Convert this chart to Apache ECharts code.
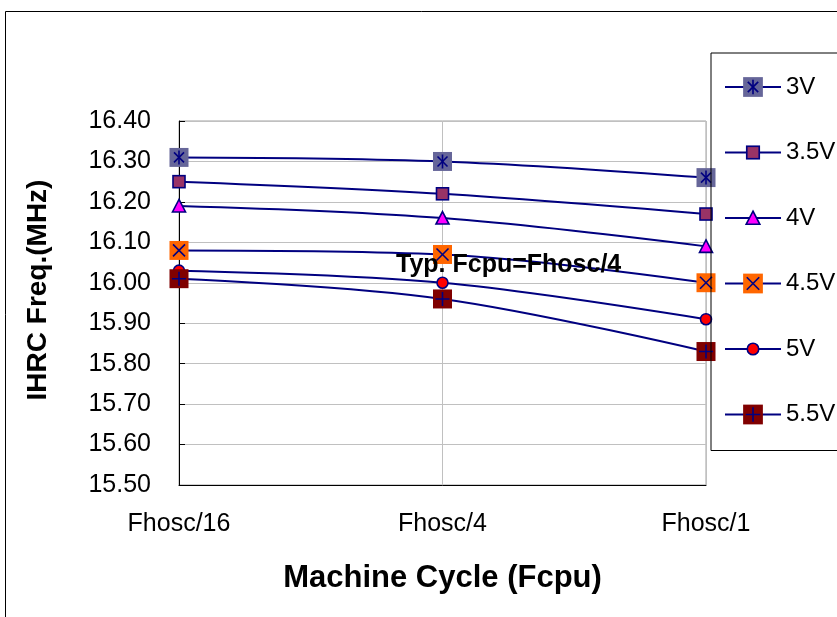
<!DOCTYPE html>
<html>
<head>
<meta charset="utf-8">
<script src="https://cdn.jsdelivr.net/npm/echarts@6/dist/echarts.min.js"></script>
<style>
  html, body { margin: 0; padding: 0; background: #fff; }
  #main { width: 837px; height: 617px; }
</style>
</head>
<body>
<div id="main"></div>
<script>
// 横轴分类
var categories = ['Fhosc/16', 'Fhosc/4', 'Fhosc/1'];
// 各电压下的 IHRC 频率 (MHz)
var v30 = [16.31, 16.30, 16.26];
var v35 = [16.25, 16.22, 16.17];
var v40 = [16.19, 16.16, 16.09];
var v45 = [16.08, 16.07, 16.00];
var v50 = [16.03, 16.00, 15.91];
var v55 = [16.01, 15.96, 15.83];
var seriesNames = ['3V', '3.5V', '4V', '4.5V', '5V', '5.5V'];
var yTicks = [15.5, 16.4, 0.1]; // min, max, interval

var FONT = 'Liberation Sans, Arial, sans-serif';
var NAVY = '#000080';

// Excel 风格的标记, 用 svg 图片画 (方块+内部符号)
function svgSymbol(body) {
    var svg = '<svg xmlns="http://www.w3.org/2000/svg" width="20" height="20" viewBox="0 0 20 20">' + body + '</svg>';
    return 'image://data:image/svg+xml;charset=utf-8,' + encodeURIComponent(svg);
}
var ln = function (x1, y1, x2, y2) {
    return '<line x1="' + x1 + '" y1="' + y1 + '" x2="' + x2 + '" y2="' + y2 + '" stroke="' + NAVY + '" stroke-width="1.6"/>';
};
var symbols = [
    svgSymbol('<rect x="0.5" y="0.5" width="19" height="19" fill="#666699"/>' + ln(5, 5, 15, 15) + ln(15, 5, 5, 15) + ln(10, 3, 10, 17)),
    svgSymbol('<rect x="4" y="4" width="12" height="12" fill="#993366" stroke="' + NAVY + '" stroke-width="1.6"/>'),
    svgSymbol('<polygon points="10,3.5 16.5,16 3.5,16" fill="#FF00FF" stroke="' + NAVY + '" stroke-width="1.6"/>'),
    svgSymbol('<rect x="0.5" y="0.5" width="19" height="19" fill="#FF6600"/>' + ln(4, 4, 16, 16) + ln(16, 4, 4, 16)),
    svgSymbol('<circle cx="10" cy="10" r="5.5" fill="#FF0000" stroke="' + NAVY + '" stroke-width="1.6"/>'),
    svgSymbol('<rect x="0.5" y="0.5" width="19" height="19" fill="#800000"/>' + ln(10, 3, 10, 17) + ln(3, 10, 17, 10))
];

var values = [v30, v35, v40, v45, v50, v55];

var myChart = echarts.init(document.getElementById('main'));

var series = [];
values.forEach(function (data, i) {
    series.push({
        name: seriesNames[i],
        type: 'line',
        smooth: 0.35,
        symbol: symbols[i],
        symbolSize: 20,
        showAllSymbol: true,
        lineStyle: { color: NAVY, width: 2 },
        itemStyle: { color: NAVY },
        emphasis: { disabled: true },
        data: data
    });
});

myChart.setOption({
    animation: false,
    backgroundColor: '#fff',
    textStyle: { fontFamily: FONT },
    grid: {
        left: 179,
        right: 131,
        top: 121,
        bottom: 132,
        show: true,
        borderColor: '#a0a0a0',
        borderWidth: 1
    },
    legend: {
        orient: 'vertical',
        left: 711,
        top: 53,
        itemWidth: 56,
        itemHeight: 26,
        itemGap: 41.5,
        padding: [22, 60, 24, 13],
        borderColor: '#000',
        borderWidth: 1,
        textStyle: { fontSize: 24, color: '#000', fontFamily: FONT },
        data: seriesNames
    },
    xAxis: {
        type: 'category',
        boundaryGap: false,
        data: categories,
        name: 'Machine Cycle (Fcpu)',
        nameLocation: 'middle',
        nameGap: 78,
        nameTextStyle: { fontSize: 31, fontWeight: 'bold', color: '#000', fontFamily: FONT },
        axisLine: { lineStyle: { color: '#000', width: 1 } },
        axisTick: { show: false },
        axisLabel: { fontSize: 25, color: '#000', margin: 27, fontFamily: FONT },
        splitLine: { show: true, lineStyle: { color: '#c0c0c0', width: 1 } }
    },
    yAxis: {
        type: 'value',
        min: yTicks[0],
        max: yTicks[1],
        interval: yTicks[2],
        name: 'IHRC Freq.(MHz)',
        nameLocation: 'middle',
        nameGap: 127,
        nameTextStyle: {
            fontSize: 28, fontWeight: 'bold', color: '#000', fontFamily: FONT,
            padding: [0, 0, 0, 26]
        },
        axisLine: { show: true, lineStyle: { color: '#000', width: 1 } },
        axisTick: { show: true, inside: true, length: 6, lineStyle: { color: '#000' } },
        axisLabel: {
            fontSize: 25,
            color: '#000',
            margin: 28,
            fontFamily: FONT,
            formatter: function (v) { return v.toFixed(2); }
        },
        splitLine: { show: true, lineStyle: { color: '#c0c0c0', width: 1 } }
    },
    graphic: [
        {
            // 外框
            type: 'rect',
            left: 3,
            top: 9,
            shape: { width: 900, height: 700 },
            style: { fill: 'none', stroke: '#000', lineWidth: 1 },
            silent: true,
            z: -10
        },
        {
            type: 'text',
            left: 396,
            top: 253,
            z: 100,
            style: {
                text: 'Typ. Fcpu=Fhosc/4',
                font: 'bold 25px ' + FONT,
                fill: '#000'
            }
        }
    ],
    series: series
});

window.addEventListener('resize', function () {
    myChart.resize();
});
</script>
</body>
</html>
